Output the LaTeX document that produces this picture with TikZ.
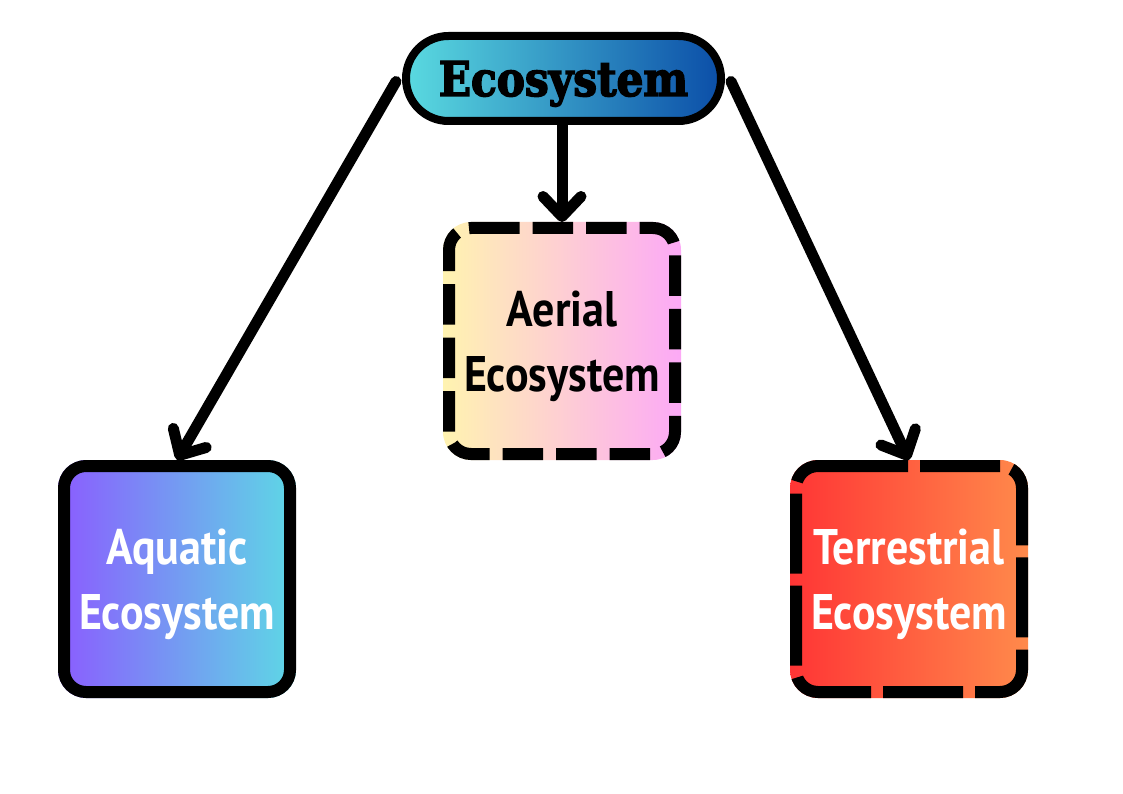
\documentclass[tikz,border=0pt]{standalone}
\usepackage{fontspec}
\usetikzlibrary{arrows.meta,shapes.misc,backgrounds}
\newfontfamily\titlefont[FakeStretch=0.88,FakeBold=3]{DejaVu Serif}
\newfontfamily\boxfont[FakeStretch=0.88]{PT Sans}
\definecolor{pillL}{HTML}{5ADAE0}
\definecolor{pillR}{HTML}{0B4EA8}
\definecolor{aerL}{HTML}{FFF3B0}
\definecolor{aerR}{HTML}{FCA9F6}
\definecolor{aquL}{HTML}{8B5CFF}
\definecolor{aquR}{HTML}{5DD9E5}
\definecolor{terL}{HTML}{FF3535}
\definecolor{terR}{HTML}{FF8A4B}
\begin{document}
\begin{tikzpicture}[x=1pt,y=-1pt,
  pill/.style={rounded rectangle, draw=black, line width=8pt, left color=pillL, right color=pillR,
    minimum width=315pt, minimum height=85pt, inner sep=0pt, outer sep=4pt, text depth=0pt,
    font=\titlefont\bfseries\fontsize{48}{50}\selectfont},
  ebox/.style={rectangle, line width=12pt, rounded corners=22pt,
    minimum width=226pt, minimum height=226pt, inner sep=0pt, outer sep=6pt,
    align=center, text depth=0pt, font=\boxfont\bfseries\fontsize{50}{65}\selectfont},
  eborder/.style={draw=black, line width=12pt, rounded corners=22pt},
  conn/.style={line width=11pt, line cap=round,
    -{Straight Barb[length=20pt,width=38pt,round]}}
]
\useasboundingbox (0,0) rectangle (1123,794);
\node[pill] (top) at (563.5,78.5) {Ecosystem};
\node[ebox, text=black] (aerial) at (562,341) {Aerial\\Ecosystem};
\node[ebox, draw=black, text=white] (aquatic) at (177,579) {Aquatic\\Ecosystem};
\node[ebox, text=white] (terr) at (909,579) {Terrestrial\\Ecosystem};
\begin{scope}[on background layer]
  \shade[left color=aerL, right color=aerR, rounded corners=28pt] (aerial.south west) rectangle (aerial.north east);
  \shade[left color=aquL, right color=aquR, rounded corners=28pt] (aquatic.south west) rectangle (aquatic.north east);
  \shade[left color=terL, right color=terR, rounded corners=28pt] (terr.south west) rectangle (terr.north east);
\end{scope}
% dashed borders, drawn clockwise from a point on the top edge
\coordinate (aerS) at ([xshift=-83pt,yshift=-6pt]aerial.north);
\draw[eborder, dash pattern=on 40.5pt off 13pt]
  (aerS) -- ([xshift=-6pt,yshift=-6pt]aerial.north east)
  -- ([xshift=-6pt,yshift=6pt]aerial.south east) -- ([xshift=6pt,yshift=6pt]aerial.south west)
  -- ([xshift=6pt,yshift=-6pt]aerial.north west) -- (aerS);
\coordinate (terS) at ([xshift=-81pt,yshift=-6pt]terr.north);
\draw[eborder, dash pattern=on 80pt off 12pt]
  (terS) -- ([xshift=-6pt,yshift=-6pt]terr.north east)
  -- ([xshift=-6pt,yshift=6pt]terr.south east) -- ([xshift=6pt,yshift=6pt]terr.south west)
  -- ([xshift=6pt,yshift=-6pt]terr.north west) -- (terS);
\draw[conn] ([xshift=-6pt,yshift=-3pt]top.west) -- (aquatic.north);
\draw[conn] (top.south -| aerial.north) -- (aerial.north);
\draw[conn] ([xshift=6pt,yshift=-3pt]top.east) -- (terr.north);
\end{tikzpicture}
\end{document}
